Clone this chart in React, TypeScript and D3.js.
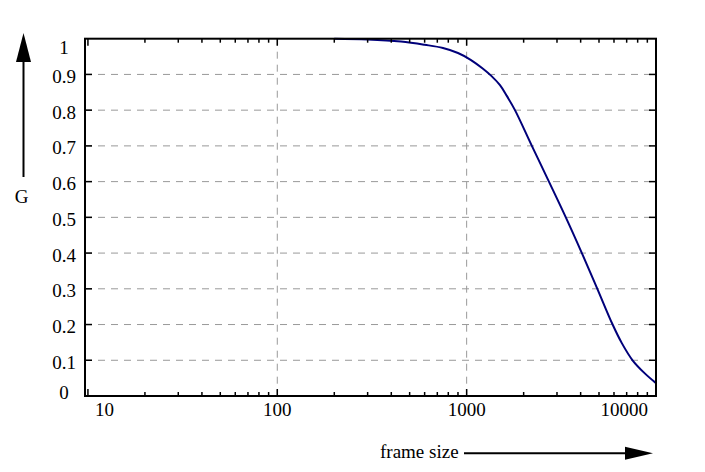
import React from 'react';
import * as d3 from 'd3';

// frame size vs G
const frameSizes = [200, 300, 450, 600, 750, 900, 1050, 1220, 1350, 1500, 1630, 1800, 2210, 2720, 3340, 4060, 4900, 5900, 6600, 7520, 8700, 10000];
const gValues = [1.0, 0.998, 0.992, 0.983, 0.974, 0.96, 0.941, 0.916, 0.896, 0.87, 0.84, 0.8, 0.7, 0.6, 0.5, 0.4, 0.3, 0.2, 0.148, 0.1, 0.064, 0.036];

const xMajor = [10, 100, 1000, 10000];
const xGrid = [100, 1000];
const yTicks = [0, 0.1, 0.2, 0.3, 0.4, 0.5, 0.6, 0.7, 0.8, 0.9, 1];
const yTickLabels = ['0', '0.1', '0.2', '0.3', '0.4', '0.5', '0.6', '0.7', '0.8', '0.9', '1'];

const W = 705;
const H = 472;
const margin = { top: 38.7, right: 49, bottom: 76, left: 85 };
const FONT = '"Liberation Serif", "DejaVu Serif", serif';

export default function App() {
  const left = margin.left;
  const right = W - margin.right;
  const top = margin.top;
  const bottom = H - margin.bottom;

  const x = d3.scaleLog().domain([9.65, 10000]).range([left, right]);
  const y = d3.scaleLinear().domain([0, 1]).range([bottom, top]);

  // minor ticks 2..9 of each decade inside the domain
  const minor: number[] = [];
  for (let p = 1; p <= 3; p++) {
    for (let m = 2; m <= 9; m++) minor.push(m * Math.pow(10, p));
  }

  const line = d3
    .line<number>()
    .x((_, i) => x(frameSizes[i]))
    .y((d) => y(Math.min(d, 1)))
    .curve(d3.curveCatmullRom.alpha(0.5));

  const grid = '#999999';

  return (
    <svg
      width={W}
      height={H}
      style={{ position: 'absolute', left: 0, top: 0, background: '#fff' }}
      fontFamily={FONT}
    >
      {/* grid */}
      {yTicks.slice(1, -1).map((t) => (
        <line key={'gy' + t} x1={left} x2={right} y1={y(t)} y2={y(t)} stroke={grid} strokeDasharray="7,6" />
      ))}
      {xGrid.map((t) => (
        <line key={'gx' + t} x1={x(t)} x2={x(t)} y1={top} y2={bottom} stroke={grid} strokeDasharray="7,6" />
      ))}

      {/* curve */}
      <path d={line(gValues) || ''} fill="none" stroke="#00007a" strokeWidth={2} />

      {/* ticks */}
      {minor.map((t) => (
        <g key={'mx' + t}>
          <line x1={x(t)} x2={x(t)} y1={bottom} y2={bottom - 4} stroke="#000" strokeWidth={1.5} />
          <line x1={x(t)} x2={x(t)} y1={top} y2={top + 4} stroke="#000" strokeWidth={1.5} />
        </g>
      ))}
      {xMajor.map((t) => (
        <g key={'Mx' + t}>
          <line x1={x(t)} x2={x(t)} y1={bottom} y2={bottom - 7} stroke="#000" strokeWidth={1.5} />
          <line x1={x(t)} x2={x(t)} y1={top} y2={top + 7} stroke="#000" strokeWidth={1.5} />
        </g>
      ))}
      {yTicks.slice(1, -1).map((t) => (
        <g key={'ty' + t}>
          <line x1={left} x2={left + 7} y1={y(t)} y2={y(t)} stroke="#000" strokeWidth={1.5} />
          <line x1={right} x2={right - 7} y1={y(t)} y2={y(t)} stroke="#000" strokeWidth={1.5} />
        </g>
      ))}

      {/* frame */}
      <rect x={left} y={top} width={right - left} height={bottom - top} fill="none" stroke="#000" strokeWidth={2} />

      {/* y labels */}
      {yTicks.map((t, i) => {
        const cy = Math.min(Math.max(y(t) + 2, top + 9), bottom - 4);
        return (
          <text key={'ly' + t} x={64} y={cy} textAnchor="middle" dominantBaseline="central" fontSize={19}>
            {yTickLabels[i]}
          </text>
        );
      })}

      {/* x labels */}
      {xMajor.map((t) => {
        const px = x(t);
        let anchor: 'start' | 'middle' | 'end' = 'middle';
        let lx = px;
        if (px - left < 20) {
          anchor = 'start';
          lx = left + 10;
        } else if (right - px < 20) {
          anchor = 'end';
          lx = right - 8;
        }
        return (
          <text key={'lx' + t} x={lx} y={416} textAnchor={anchor} fontSize={19}>
            {String(t)}
          </text>
        );
      })}

      {/* axis name G with up arrow */}
      <line x1={23.5} x2={23.5} y1={177} y2={60} stroke="#000" strokeWidth={2} />
      <path d="M23.5,33 L31,62 L16,62 Z" fill="#000" />
      <text x={21.5} y={203} textAnchor="middle" fontSize={19}>G</text>

      {/* axis name frame size with right arrow */}
      <text x={380} y={458} fontSize={19}>frame size</text>
      <line x1={464} x2={627} y1={453.3} y2={453.3} stroke="#000" strokeWidth={2} />
      <path d="M653,453.3 L625,446.8 L625,459.8 Z" fill="#000" />
    </svg>
  );
}
